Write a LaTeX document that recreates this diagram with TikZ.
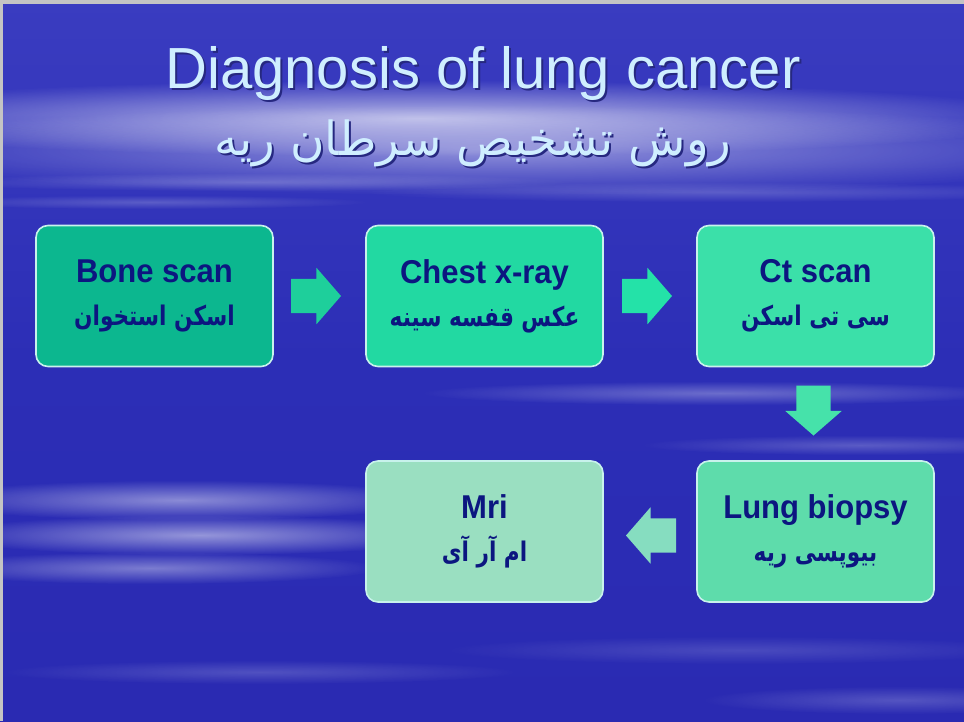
\documentclass[tikz,border=0pt]{standalone}
\usepackage{fontspec}
\setmainfont{Liberation Sans}
\newfontfamily\boxfont[FakeStretch=0.94]{Liberation Sans}
\newfontfamily\arabicfont[Script=Arabic]{DejaVu Sans}
\newfontfamily\arabicbox[Script=Arabic,FakeStretch=0.8]{DejaVu Sans}
\TeXXeTstate=1
\usetikzlibrary{shapes.arrows,fadings,calc}
\definecolor{bgtop}{HTML}{3A3CC0}
\definecolor{bgmid}{HTML}{2C2EB6}
\definecolor{bgbot}{HTML}{2A2AB2}
\definecolor{frame}{HTML}{C4C4C4}
\definecolor{titlec}{HTML}{CFEEFF}
\definecolor{shadowc}{HTML}{262880}
\definecolor{textc}{HTML}{0C1680}
\definecolor{boxline}{HTML}{C8F2EC}
\definecolor{cbone}{HTML}{0CB78F}
\definecolor{cchest}{HTML}{22D9A2}
\definecolor{cct}{HTML}{3BE0A9}
\definecolor{clung}{HTML}{5EDCAB}
\definecolor{cmri}{HTML}{9ADFC1}
\definecolor{aone}{HTML}{1ECF9B}
\definecolor{atwo}{HTML}{24E2A8}
\definecolor{athree}{HTML}{46E2AA}
\definecolor{afour}{HTML}{86DDC0}
\tikzfading[name=softcloud, inner color=transparent!0, outer color=transparent!100]
\tikzset{
  box/.style={rectangle, rounded corners=12pt, minimum width=237pt, minimum height=141pt,
    draw=boxline, line width=1.6pt, align=center, text=textc, inner sep=0pt,
    font=\fontsize{33}{43}\selectfont},
  barrow/.style={single arrow, draw=none, minimum height=50pt, inner xsep=0pt, inner ysep=17pt,
    single arrow head extend=11pt, single arrow tip angle=98, anchor=tail},
  varrow/.style={barrow, inner xsep=17pt, inner ysep=0pt, shape border rotate=270},
  cloud/.style={fill=white, path fading=softcloud},
  ttl/.style={text=titlec, inner sep=0pt, anchor=base}
}
\newcommand{\ar}[1]{{\arabicbox\bfseries\fontsize{27}{43}\selectfont\beginR #1\endR}}
\newcommand{\en}[1]{{\boxfont\bfseries #1}}
\newcommand{\shadowed}[1]{\makebox[0pt][l]{\hspace{2pt}\raisebox{-2pt}{\color{shadowc}#1}}#1}
\begin{document}
\begin{tikzpicture}[x=1pt,y=-1pt]
\useasboundingbox (0,0) rectangle (964,721);
% background
\shade[top color=bgtop, bottom color=bgbot, middle color=bgmid] (0,0) rectangle (964,721);
% clouds
\fill[cloud, opacity=0.65] (420,118) ellipse [x radius=640pt, y radius=38pt];
\fill[cloud, opacity=0.45] (500,150) ellipse [x radius=660pt, y radius=45pt];
\fill[cloud, opacity=0.22] (250,182) ellipse [x radius=320pt, y radius=9pt];
\fill[cloud, opacity=0.2] (150,202) ellipse [x radius=220pt, y radius=7pt];
\fill[cloud, opacity=0.2] (720,192) ellipse [x radius=360pt, y radius=10pt];
\fill[cloud, opacity=0.3] (720,393) ellipse [x radius=300pt, y radius=12pt];
\fill[cloud, opacity=0.22] (860,445) ellipse [x radius=220pt, y radius=10pt];
\fill[cloud, opacity=0.45] (180,500) ellipse [x radius=260pt, y radius=20pt];
\fill[cloud, opacity=0.5] (200,535) ellipse [x radius=260pt, y radius=20pt];
\fill[cloud, opacity=0.38] (150,568) ellipse [x radius=230pt, y radius=16pt];
\fill[cloud, opacity=0.18] (260,672) ellipse [x radius=260pt, y radius=12pt];
\fill[cloud, opacity=0.15] (740,650) ellipse [x radius=300pt, y radius=14pt];
\fill[cloud, opacity=0.2] (900,700) ellipse [x radius=200pt, y radius=14pt];
% frame
\fill[frame] (0,0) rectangle (964,4);
\fill[frame] (0,0) rectangle (3,721);
% title
\node[ttl, font=\fontsize{58}{60}\selectfont] (title) at (483,88) {\shadowed{Diagnosis of lung cancer}};
\node[ttl, font=\arabicfont\fontsize{47}{52}\selectfont] (subtitle) at (473,155) {\shadowed{\beginR روش تشخیص سرطان ریه\endR}};
% boxes
\node[box, fill=cbone] (bone) at (154.5,296) {\en{Bone scan}\\\ar{اسکن استخوان}};
\node[box, fill=cchest] (chest) at (484.5,296) {\en{Chest x-ray}\\\ar{عکس قفسه سینه}};
\node[box, fill=cct] (ct) at (815.5,296) {\en{Ct scan}\\\ar{سی تی اسکن}};
\node[box, fill=clung] (lung) at (815.5,531.5) {\en{Lung biopsy}\\\ar{بیوپسی ریه}};
\node[box, fill=cmri] (mri) at (484.5,531.5) {\en{Mri}\\\ar{ام آر آی}};
% arrows
\node[barrow, fill=aone] (a1) at ($(bone.east)+(17,0)$) {};
\node[barrow, fill=atwo] (a2) at ($(chest.east)+(18,0)$) {};
\node[varrow, fill=athree] (a3) at ($(ct.south)+(-2,18)$) {};
\node[barrow, fill=afour, shape border rotate=180] (a4) at ($(lung.west)+(-20,4)$) {};
\end{tikzpicture}
\end{document}
